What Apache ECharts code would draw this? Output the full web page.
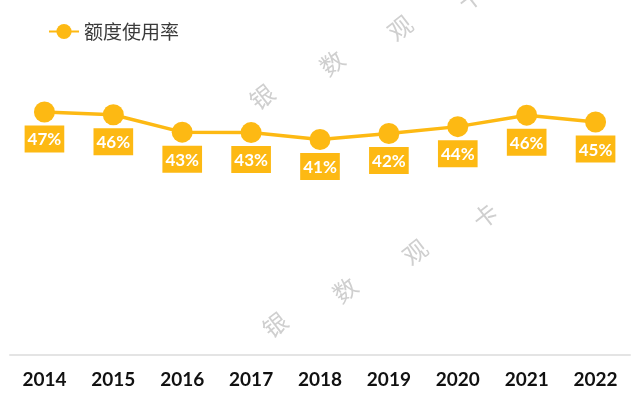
<!DOCTYPE html>
<html>
<head>
<meta charset="utf-8">
<script src="https://cdn.jsdelivr.net/npm/echarts@6/dist/echarts.min.js"></script>
<style>
html,body{margin:0;padding:0;background:#fff;}
#chart{width:638px;height:407px;}
</style>
</head>
<body>
<div id="chart"></div>
<script>
var categories = ['2014','2015','2016','2017','2018','2019','2020','2021','2022'];
var usageRate = [47.0, 46.4, 42.6, 42.5, 41.0, 42.3, 43.8, 46.3, 44.8];
var seriesName = '额度使用率';
var watermarkChars = ['银','数','观','卡'];

var color = '#FDB913';
var chart = echarts.init(document.getElementById('chart'));

var wm = [];
var sets = [
  [[262,97],[332,63],[400,28],[470,-2]],
  [[275,325],[345,290],[415,252],[485,216]]
];
sets.forEach(function(s){
  s.forEach(function(p,i){
    wm.push({
      type:'text', x:p[0], y:p[1], rotation: Math.PI*38/180, z:-1,
      style:{text:watermarkChars[i], fill:'#cfcfcf', font:'24px "Noto Sans CJK SC"', align:'center', verticalAlign:'middle'}
    });
  });
});

chart.setOption({
  backgroundColor:'#fff',
  animation:false,
  graphic: wm,
  legend:{
    left:43, top:17,
    itemWidth:30, itemHeight:19, itemGap:10,
    textStyle:{fontSize:19, color:'#3a3a3a', fontFamily:'"Noto Sans CJK SC"'},
    data:[seriesName]
  },
  grid:{left:10, right:8, top:34, bottom:52, containLabel:false, outerBoundsMode:'none'},
  xAxis:{
    type:'category',
    data:categories,
    axisLine:{onZero:false, lineStyle:{color:'#e4e4e4', width:2}},
    axisTick:{show:false},
    axisLabel:{color:'#111', fontSize:19, fontWeight:'bold', fontFamily:'Lato', margin:15}
  },
  yAxis:{type:'value', min:-6, max:64, show:false, splitLine:{show:false}},
  series:[{
    name:seriesName,
    type:'line',
    data:usageRate,
    symbol:'circle',
    symbolSize:21,
    lineStyle:{color:color, width:3.5},
    itemStyle:{color:color},
    label:{
      show:true, position:'bottom', distance:3,
      formatter:function(p){return Math.round(p.value)+'%';},
      color:'#fff', backgroundColor:color,
      fontSize:17, fontWeight:'bold', fontFamily:'Lato',
      padding:[5,3,3,3], lineHeight:19
    }
  }]
});
</script>
</body>
</html>
